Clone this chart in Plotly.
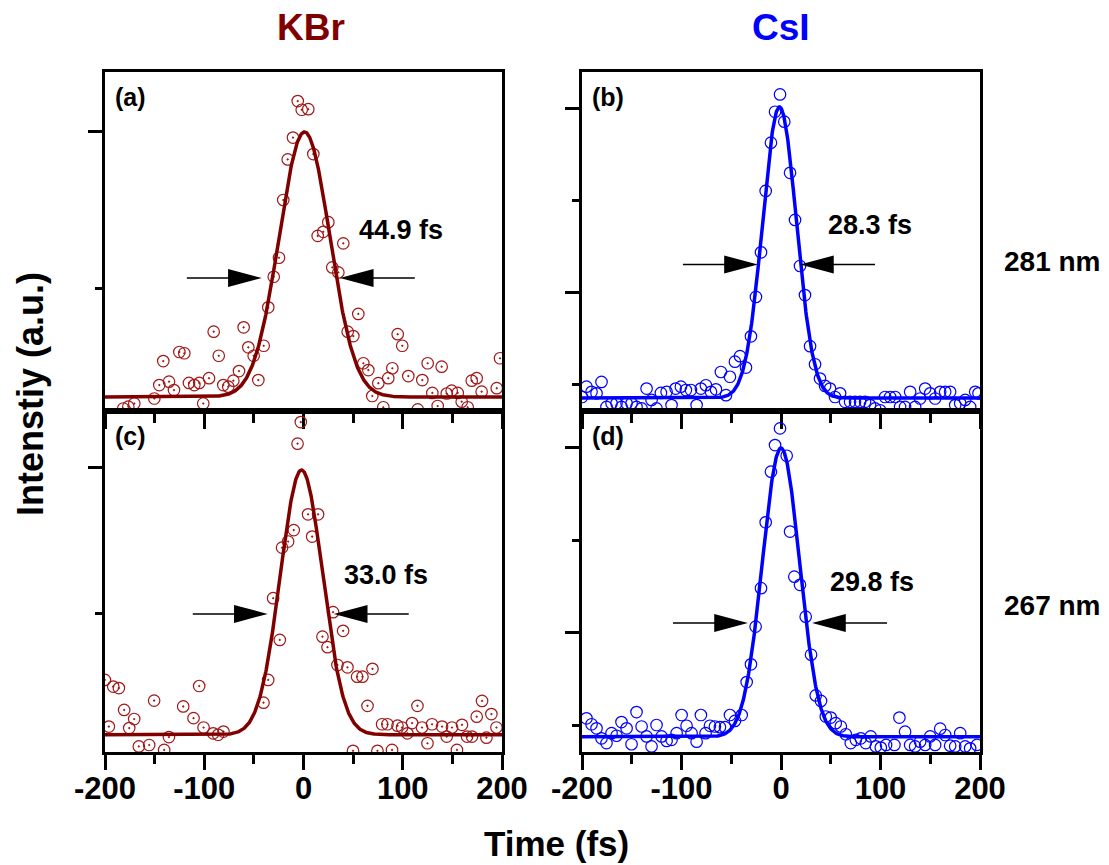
import numpy as np
import plotly.graph_objects as go

W, H = 1109, 865
FONT = "Liberation Sans, Arial, sans-serif"
DARKRED = "#800000"
MARKRED = "#A01818"
BLUE = "#0000FF"

# ---------------- data: delay (fs) and intensity (a.u.) ----------------
# (a) KBr, 281 nm
kbr281_t = [-181.6, -176.5, -170.5, -150.3, -145.3, -141.3, -135.5, -130.5, -125.1, -120.1,
            -115.4, -110.0, -105.0, -101.0, -95.2, -90.5, -85.4, -80.8, -75.8, -70.7,
            -65.0, -60.3, -55.6, -50.2, -45.5, -40.1, -35.5, -30.0, -24.7, -20.4,
            -15.9, -10.6, -5.8, -1.8, 4.8, 9.9, 14.3, 19.9, 25.0, 29.0,
            35.1, 40.1, 44.5, 50.2, 55.2, 60.3, 65.3, 69.3, 75.4, 80.4,
            85.4, 89.5, 94.9, 99.5, 105.6, 115.1, 119.7, 125.1, 129.8, 135.2,
            139.2, 144.3, 149.3, 155.4, 159.4, 165.4, 169.5, 174.5, 179.5, 194.7, 198.0]
kbr281_y = [0.114, 0.120, 0.130, 0.146, 0.189, 0.266, 0.200, 0.173, 0.295, 0.291,
            0.196, 0.189, 0.196, 0.130, 0.211, 0.360, 0.283, 0.189, 0.184, 0.203,
            0.234, 0.374, 0.310, 0.283, 0.205, 0.315, 0.438, 0.536, 0.597, 0.782,
            0.912, 0.982, 1.099, 1.071, 1.073, 0.929, 0.667, 0.680, 0.711, 0.566,
            0.550, 0.643, 0.360, 0.346, 0.417, 0.259, 0.237, 0.154, 0.195, 0.118,
            0.211, 0.243, 0.352, 0.315, 0.218, 0.111, 0.205, 0.259, 0.164, 0.122,
            0.248, 0.162, 0.171, 0.164, 0.136, 0.118, 0.203, 0.211, 0.168, 0.179, 0.275]

# (b) CsI, 281 nm
csi281_t = [-200.0, -195.5, -190.4, -185.4, -180.4, -175.4, -170.3, -165.3, -160.3, -155.2,
            -150.2, -145.2, -140.1, -135.1, -130.1, -125.1, -120.7, -115.0, -110.0, -105.9,
            -100.6, -95.6, -90.5, -84.8, -80.5, -75.5, -70.4, -65.4, -60.4, -55.3,
            -51.3, -46.3, -41.2, -35.2, -30.2, -25.2, -20.1, -15.4, -10.1, -6.0,
            -1.0, 3.3, 9.1, 14.1, 19.1, 24.1, 29.2, 34.2, 39.2, 44.3,
            49.3, 54.3, 59.4, 64.4, 69.4, 74.4, 79.5, 84.5, 89.5, 94.6,
            99.6, 104.6, 109.7, 114.7, 119.7, 124.7, 129.8, 134.8, 139.8, 144.9,
            149.9, 154.9, 160.0, 165.0, 170.0, 175.1, 180.1, 185.1, 190.1, 195.2, 198.5]
csi281_y = [0.215, 0.243, 0.229, 0.225, 0.256, 0.188, 0.198, 0.198, 0.188, 0.198,
            0.198, 0.188, 0.184, 0.238, 0.207, 0.184, 0.226, 0.229, 0.193, 0.238,
            0.243, 0.234, 0.234, 0.193, 0.238, 0.247, 0.229, 0.236, 0.283, 0.220,
            0.270, 0.311, 0.326, 0.295, 0.380, 0.487, 0.608, 0.775, 0.906, 0.990,
            1.037, 0.963, 0.824, 0.696, 0.571, 0.492, 0.353, 0.304, 0.265, 0.245,
            0.238, 0.215, 0.225, 0.202, 0.202, 0.202, 0.202, 0.202, 0.193, 0.184,
            0.179, 0.215, 0.215, 0.215, 0.188, 0.188, 0.229, 0.188, 0.211, 0.238,
            0.225, 0.211, 0.229, 0.229, 0.229, 0.193, 0.198, 0.207, 0.188, 0.229, 0.225]

# (c) KBr, 267 nm
kbr267_t = [-200.1, -196.1, -191.7, -186.0, -180.7, -175.6, -170.6, -165.9, -155.5, -150.5,
            -140.4, -135.6, -121.2, -110.8, -105.1, -100.7, -91.0, -86.0, -80.6, -40.3,
            -35.6, -30.6, -23.9, -21.6, -15.5, -9.8, -6.0, -2.7, 4.6, 8.7,
            14.7, 19.1, 24.2, 29.8, 34.2, 39.9, 44.3, 49.9, 54.0, 59.4,
            64.5, 69.5, 74.5, 79.2, 84.6, 89.2, 94.7, 99.3, 104.7, 109.4,
            114.8, 119.4, 124.9, 129.5, 139.6, 144.3, 149.6, 154.6, 159.7, 164.8,
            169.8, 174.5, 179.9, 184.3, 189.3, 194.4]
kbr267_y = [0.274, 0.114, 0.251, 0.246, 0.171, 0.109, 0.140, 0.046, 0.051, 0.203,
            0.034, 0.078, 0.183, 0.143, 0.253, 0.111, 0.091, 0.086, 0.097, 0.196,
            0.274, 0.554, 0.411, 0.727, 0.748, 0.787, 1.083, 1.157, 0.841, 0.765,
            0.841, 0.422, 0.386, 0.506, 0.325, 0.442, 0.317, 0.031, 0.285, 0.285,
            0.185, 0.312, 0.031, 0.122, 0.122, 0.034, 0.117, 0.111, 0.091, 0.126,
            0.185, 0.111, 0.057, 0.122, 0.114, 0.080, 0.111, 0.034, 0.120, 0.080,
            0.080, 0.148, 0.202, 0.076, 0.157, 0.111]

# (d) CsI, 267 nm
csi267_t = [-195.5, -190.4, -185.4, -180.4, -175.4, -170.3, -165.3, -160.3, -155.2, -150.2,
            -145.2, -140.1, -135.1, -130.1, -125.1, -120.0, -115.0, -110.0, -104.9, -99.9,
            -94.9, -89.9, -84.8, -80.5, -75.8, -71.4, -66.4, -61.4, -56.3, -51.3,
            -46.3, -39.5, -34.5, -30.2, -25.5, -20.1, -15.4, -10.1, -6.0, -1.0,
            5.7, 9.1, 13.4, 19.1, 24.8, 30.2, 34.9, 40.2, 45.0, 50.0,
            55.0, 60.1, 65.1, 70.1, 75.2, 80.2, 85.2, 90.2, 95.3, 100.3,
            105.6, 114.0, 119.0, 124.7, 129.8, 134.8, 139.8, 144.9, 149.9, 154.9,
            160.0, 165.0, 170.0, 175.1, 180.1, 185.1, 190.1, 196.9]
csi267_y = [0.269, 0.253, 0.242, 0.215, 0.202, 0.229, 0.222, 0.259, 0.242, 0.199,
            0.286, 0.247, 0.220, 0.193, 0.251, 0.220, 0.208, 0.211, 0.229, 0.278,
            0.249, 0.229, 0.206, 0.278, 0.229, 0.249, 0.247, 0.245, 0.245, 0.278,
            0.262, 0.278, 0.367, 0.415, 0.517, 0.621, 0.799, 0.936, 1.008, 1.053,
            0.979, 0.774, 0.652, 0.630, 0.544, 0.441, 0.331, 0.316, 0.274, 0.271,
            0.256, 0.247, 0.226, 0.202, 0.211, 0.215, 0.202, 0.220, 0.193, 0.190,
            0.197, 0.197, 0.271, 0.233, 0.197, 0.193, 0.206, 0.197, 0.220, 0.197,
            0.241, 0.224, 0.195, 0.193, 0.229, 0.193, 0.188, 0.197]

# Gaussian fits: (baseline, amplitude, centre fs, FWHM fs)
kbr281_fit = (0.151, 0.849, 1.0, 60.0)
csi281_fit = (0.212, 0.791, -1.5, 40.0)
kbr267_fit = (0.086, 0.907, -2.0, 50.0)
csi267_fit = (0.219, 0.781, 0.0, 44.0)

# retrieved pulse durations
pulse_labels = ["44.9 fs", "28.3 fs", "33.0 fs", "29.8 fs"]
panel_tags = ["(a)", "(b)", "(c)", "(d)"]
materials = ["KBr", "CsI"]
wavelengths = ["281 nm", "267 nm"]
x_ticks = [-200, -100, 0, 100, 200]
x_minor = [-150, -50, 50, 150]

# ---------------- panel layout ----------------
panels = [
    # data, fit, colours, axis ids, y range, major/minor y ticks,
    # arrow tips (t_left, t_right, level), label position
    dict(t=kbr281_t, y=kbr281_y, fit=kbr281_fit, line=DARKRED, mark=MARKRED, sym="circle-open-dot",
         ax="x", ay="y", yr=[0.106, 1.192], ymaj=[1.0], ymin=[0.5],
         arrows=(-45.0, 39.6, 0.532), lab=(98.4, 0.686)),
    dict(t=csi281_t, y=csi281_y, fit=csi281_fit, line=BLUE, mark=BLUE, sym="circle-open",
         ax="x2", ay="y2", yr=[0.177, 1.098], ymaj=[1.0, 0.5], ymin=[0.75, 0.25],
         arrows=(-26.2, 22.1, 0.575), lab=(89.5, 0.682)),
    dict(t=kbr267_t, y=kbr267_y, fit=kbr267_fit, line=DARKRED, mark=MARKRED, sym="circle-open-dot",
         ax="x3", ay="y3", yr=[0.027, 1.195], ymaj=[1.0], ymin=[0.5],
         arrows=(-39.0, 33.5, 0.500), lab=(83.4, 0.634)),
    dict(t=csi267_t, y=csi267_y, fit=csi267_fit, line=BLUE, mark=BLUE, sym="circle-open",
         ax="x4", ay="y4", yr=[0.178, 1.100], ymaj=[1.0, 0.5], ymin=[0.75, 0.25],
         arrows=(-36.2, 34.2, 0.527), lab=(91.0, 0.638)),
]

x_dom = [[105 / W, 502 / W], [582 / W, 980 / W]]
y_dom = [[1 - 411 / H, 1 - 72 / H], [1 - 752 / H, 1 - 411 / H]]

fig = go.Figure()
tfit = np.linspace(-200, 200, 801)
shapes, annotations = [], []

for i, p in enumerate(panels):
    fig.add_trace(go.Scatter(
        x=p["t"], y=p["y"], mode="markers", xaxis=p["ax"], yaxis=p["ay"],
        marker=dict(symbol=p["sym"], size=11.5, color=p["mark"],
                    line=dict(color=p["mark"], width=1.2)),
        showlegend=False, hoverinfo="skip"))
    b0, amp, tc, fwhm = p["fit"]
    yfit = b0 + amp * np.exp(-4 * np.log(2) * ((tfit - tc) / fwhm) ** 2)
    fig.add_trace(go.Scatter(
        x=tfit, y=yfit, mode="lines", xaxis=p["ax"], yaxis=p["ay"],
        line=dict(color=p["line"], width=3.5), showlegend=False, hoverinfo="skip"))

    tl, tr, lev = p["arrows"]
    for tip, path in ((tl, "M-72,0 L-28,0 M-30,-8 L0,0 L-30,8 Z"),
                      (tr, "M72,0 L28,0 M30,-8 L0,0 L30,8 Z")):
        shapes.append(dict(type="path", xref=p["ax"], yref=p["ay"],
                           xsizemode="pixel", ysizemode="pixel",
                           xanchor=tip, yanchor=lev, path=path,
                           fillcolor="black", line=dict(color="black", width=1.5)))
    lx, ly = p["lab"]
    annotations.append(dict(x=lx, y=ly, xref=p["ax"], yref=p["ay"], text=pulse_labels[i],
                            showarrow=False, font=dict(family=FONT, size=27, color="black",
                                                       weight="bold")))
    annotations.append(dict(x=0.02, y=0.926, xref=p["ax"] + " domain", yref=p["ay"] + " domain",
                            text=panel_tags[i], showarrow=False, xanchor="left", yanchor="middle",
                            font=dict(family=FONT, size=25, color="black", weight="bold")))

# column titles and row labels
for j, (name, col) in enumerate(zip(materials, [DARKRED, BLUE])):
    annotations.append(dict(x=[311 / W, 781 / W][j], y=1 - 28 / H, xref="paper", yref="paper",
                            text=name, showarrow=False, xanchor="center", yanchor="middle",
                            font=dict(family=FONT, size=37, color=col, weight="bold")))
for j, wl in enumerate(wavelengths):
    annotations.append(dict(x=1052 / W, y=[1 - 262 / H, 1 - 605 / H][j], xref="paper", yref="paper",
                            text=wl, showarrow=False, xanchor="center", yanchor="middle",
                            font=dict(family=FONT, size=28, color="black", weight="bold")))
annotations.append(dict(x=30 / W, y=1 - 394 / H, xref="paper", yref="paper",
                        text="Intenstiy (a.u.)", textangle=-90, showarrow=False,
                        xanchor="center", yanchor="middle",
                        font=dict(family=FONT, size=36, color="black", weight="bold")))
annotations.append(dict(x=556 / W, y=0, xref="paper", yref="paper",
                        text="Time (fs)", showarrow=False, xanchor="center", yanchor="bottom",
                        font=dict(family=FONT, size=35, color="black", weight="bold")))

layout = dict(width=W, height=H, autosize=False, margin=dict(l=0, r=0, t=0, b=0, pad=0),
              paper_bgcolor="white", plot_bgcolor="white",
              shapes=shapes, annotations=annotations)

for i, p in enumerate(panels):
    row, col = divmod(i, 2)
    xname = "xaxis" + ("" if i == 0 else str(i + 1))
    yname = "yaxis" + ("" if i == 0 else str(i + 1))
    layout[xname] = dict(
        domain=x_dom[col], anchor=p["ay"], range=[-200, 200], automargin=False,
        tickvals=x_ticks, ticktext=[str(v) for v in x_ticks],
        showticklabels=(row == 1), ticks="outside", ticklen=15, tickwidth=3, tickcolor="black",
        ticklabelstandoff=-8,
        minor=dict(tickvals=x_minor, ticks="outside", ticklen=9, tickwidth=3, tickcolor="black"),
        showline=True, linewidth=3, linecolor="black", mirror=True,
        showgrid=False, zeroline=False,
        tickfont=dict(family=FONT, size=31, color="black", weight="bold"))
    layout[yname] = dict(
        domain=y_dom[row], anchor=p["ax"], range=p["yr"], automargin=False,
        tickvals=p["ymaj"], showticklabels=False,
        ticks="outside", ticklen=14, tickwidth=3, tickcolor="black",
        minor=dict(tickvals=p["ymin"], ticks="outside", ticklen=7, tickwidth=3, tickcolor="black"),
        showline=True, linewidth=3, linecolor="black", mirror=True,
        showgrid=False, zeroline=False)

fig.update_layout(**layout)
fig.write_html("out.html")
